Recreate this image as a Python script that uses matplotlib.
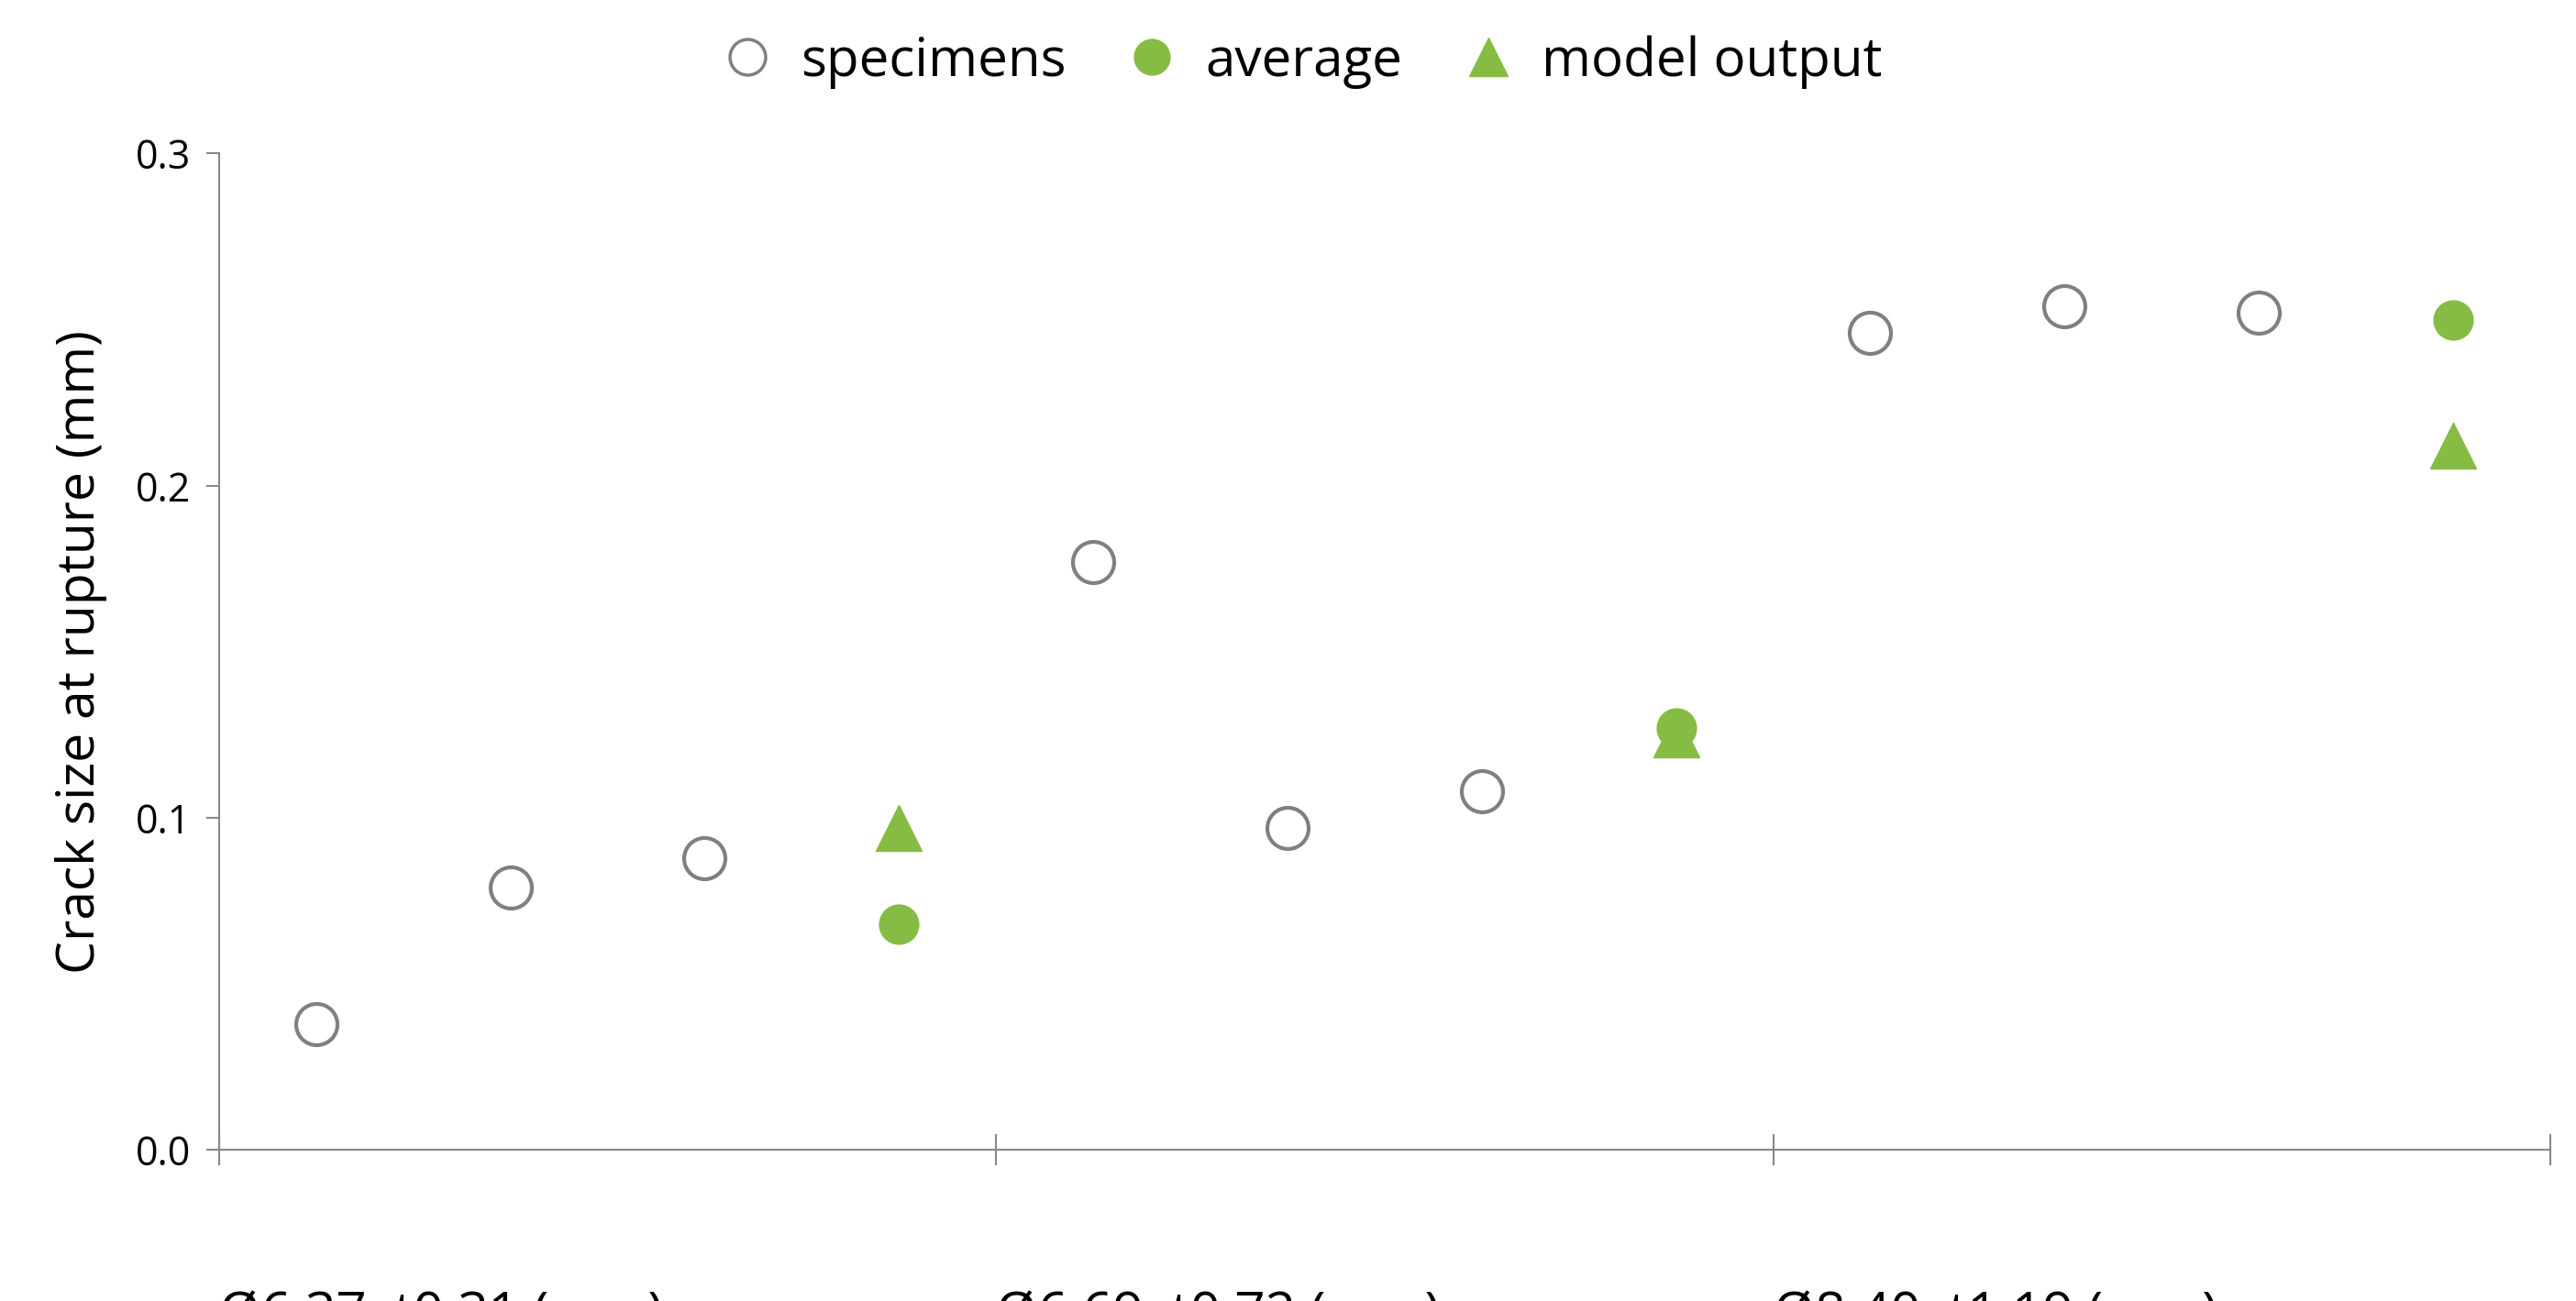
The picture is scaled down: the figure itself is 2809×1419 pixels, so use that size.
import numpy as np
import matplotlib.pyplot as plt
from matplotlib.lines import Line2D

groups = ['Ø6.37, t0.31 (mm)', 'Ø6.69, t0.72 (mm)', 'Ø8.40, t1.19 (mm)']
spec_x = [0.5, 1.5, 2.5, 4.5, 5.5, 6.5, 8.5, 9.5, 10.5]
spec_y = [0.038, 0.079, 0.088, 0.177, 0.097, 0.108, 0.246, 0.254, 0.252]
avg_x = [3.5, 7.5, 11.5]
avg_y = [0.068, 0.127, 0.250]
model_x = [3.5, 7.5, 11.5]
model_y = [0.097, 0.125, 0.212]

green = '#86bc44'
plt.rcParams['font.family'] = ['Open Sans', 'DejaVu Sans']

fig = plt.figure(figsize=(28.09, 14.19), dpi=100)
ax = fig.add_axes([0.085, 0.116, 0.905, 0.766])

ax.scatter(spec_x, spec_y, s=1050, facecolors='white', edgecolors='#808080', linewidths=3, zorder=3)
ax.scatter(avg_x, avg_y, s=950, c=green, marker='o', zorder=4)
ax.scatter(model_x, model_y, s=1300, c=green, marker='^', zorder=3)

ax.set_xlim(0, 12)
ax.set_ylim(0, 0.3)
ax.set_yticks([0, 0.1, 0.2, 0.3])
ax.set_yticklabels(['0.0', '0.1', '0.2', '0.3'])
ax.set_xticks([0, 4, 8, 12])
ax.set_xticklabels([])
for i, g in enumerate(groups):
    ax.text(i * 4, -0.05, g, ha='left', va='center', fontsize=42, color='black')

for s in ['top', 'right']:
    ax.spines[s].set_visible(False)
ax.spines['left'].set_color('#888888')
ax.spines['bottom'].set_color('#888888')
ax.spines['left'].set_linewidth(1.5)
ax.spines['bottom'].set_linewidth(1.5)
ax.tick_params(axis='y', labelsize=31, length=10, width=1.5, color='#888888', direction='out', pad=12)
ax.tick_params(axis='x', length=25, width=1.5, color='#888888', direction='inout')
ax.set_ylabel('Crack size at rupture (mm)', fontsize=41, labelpad=22)

handles = [
    Line2D([], [], ls='', marker='o', ms=28, mfc='white', mec='#808080', mew=2.5),
    Line2D([], [], ls='', marker='o', ms=28, color=green),
    Line2D([], [], ls='', marker='^', ms=30, color=green),
]
fig.legend(handles, ['specimens', 'average', 'model output'], loc='upper center',
           bbox_to_anchor=(0.5, 1.01), ncol=3, frameon=False, fontsize=42,
           handletextpad=0.0, columnspacing=0.6)

fig.savefig('out.png', dpi=100)
plt.close()
